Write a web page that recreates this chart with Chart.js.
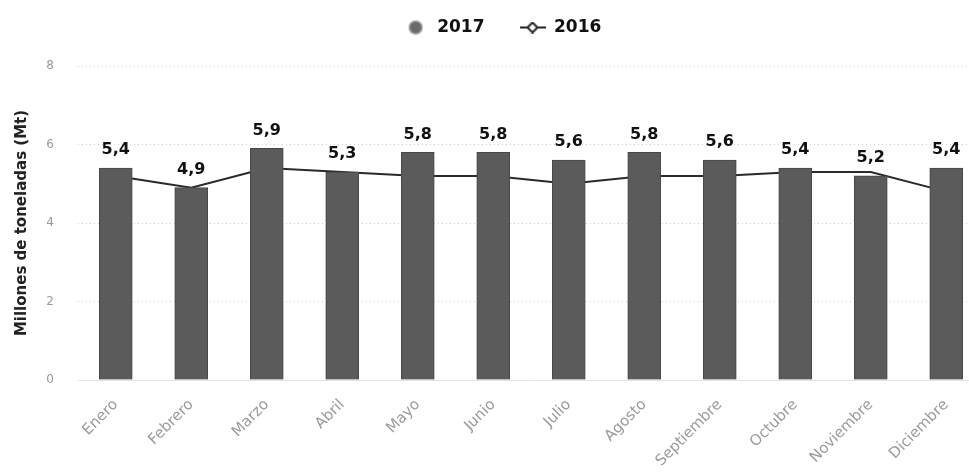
<!DOCTYPE html>
<html>
<head>
<meta charset="utf-8">
<script src="https://cdn.jsdelivr.net/npm/chart.js@4"></script>
<style>
  html, body { margin: 0; padding: 0; background: #fff; overflow: hidden; }
  #wrap { width: 990px; height: 473px; }
</style>
</head>
<body>
<div id="wrap"><canvas id="chart" width="990" height="473"></canvas></div>
<script>
// Months on the x axis
const months = [
  "Enero", "Febrero", "Marzo", "Abril", "Mayo", "Junio",
  "Julio", "Agosto", "Septiembre", "Octubre", "Noviembre", "Diciembre"
];
// 2017 bars
const values2017 = [5.4, 4.9, 5.9, 5.3, 5.8, 5.8, 5.6, 5.8, 5.6, 5.4, 5.2, 5.4];
// 2016 line
const values2016 = [5.2, 4.9, 5.4, 5.3, 5.2, 5.2, 5.0, 5.2, 5.2, 5.3, 5.3, 4.8];
const yTicks = [0, 2, 4, 6, 8];

const fontFamily = "'DejaVu Sans', Verdana, sans-serif";

// legend icons, both 26px wide so the spacing matches
function circleIcon() {
  const c = document.createElement("canvas");
  c.width = 26;
  c.height = 16;
  const g = c.getContext("2d");
  g.fillStyle = "#6a6a6a";
  g.strokeStyle = "#aaa";
  g.lineWidth = 1.5;
  g.beginPath();
  g.arc(13, 8, 6.5, 0, Math.PI * 2);
  g.fill();
  g.stroke();
  return c;
}

function lineIcon() {
  const c = document.createElement("canvas");
  c.width = 26;
  c.height = 12;
  const g = c.getContext("2d");
  g.strokeStyle = "#222";
  g.lineWidth = 2;
  g.beginPath();
  g.moveTo(0, 6);
  g.lineTo(26, 6);
  g.stroke();
  g.fillStyle = "#fff";
  g.beginPath();
  g.moveTo(13, 1);
  g.lineTo(18, 6);
  g.lineTo(13, 11);
  g.lineTo(8, 6);
  g.closePath();
  g.fill();
  g.stroke();
  return c;
}

// bar value labels, "5,4" style
const barLabels = {
  id: "barLabels",
  afterDatasetsDraw(chart) {
    const ctx = chart.ctx;
    const meta = chart.getDatasetMeta(0);
    ctx.save();
    ctx.font = "bold 16px " + fontFamily;
    ctx.fillStyle = "#111";
    ctx.textAlign = "center";
    ctx.textBaseline = "bottom";
    meta.data.forEach(function (bar, i) {
      const txt = values2017[i].toFixed(1).replace(".", ",");
      ctx.fillText(txt, bar.x, bar.y - 10);
    });
    ctx.restore();
  }
};

// legend: fixed height above the plot, nudged up and a little right
const legendPlace = {
  id: "legendPlace",
  beforeInit(chart) {
    const lg = chart.legend;
    const fit = lg.fit;
    lg.fit = function () {
      fit.call(this);
      this.height = 66;
    };
  },
  afterLayout(chart) {
    const lg = chart.legend;
    lg.left += 10;
    lg.right += 10;
    lg.top -= 16;
    lg.bottom -= 16;
  }
};

new Chart(document.getElementById("chart"), {
  type: "bar",
  data: {
    labels: months,
    datasets: [
      {
        label: "2017",
        data: values2017,
        backgroundColor: "#5b5b5b",
        borderColor: "#474747",
        borderWidth: 1,
        barThickness: 33,
        order: 1
      },
      {
        type: "line",
        label: "2016",
        data: values2016,
        borderColor: "#2a2a2a",
        borderWidth: 2,
        pointRadius: 0,
        tension: 0,
        order: 2
      }
    ]
  },
  options: {
    responsive: false,
    animation: false,
    layout: { padding: { top: 0, right: 6, left: 0, bottom: 0 } },
    plugins: {
      tooltip: { enabled: false },
      legend: {
        display: true,
        position: "top",
        labels: {
          usePointStyle: true,
          boxHeight: 13,
          pointStyleWidth: 26,
          font: { family: fontFamily, size: 17, weight: "bold" },
          color: "#111",
          padding: 35,
          generateLabels: function (chart) {
            const items = Chart.defaults.plugins.legend.labels.generateLabels(chart);
            items.forEach(function (it) {
              it.pointStyle = it.text === "2017" ? circleIcon() : lineIcon();
            });
            return items;
          }
        }
      }
    },
    scales: {
      x: {
        afterFit: function (axis) { axis.height = 93; },
        grid: { display: false },
        border: { color: "#e2e2e2" },
        ticks: {
          color: "#9a9a9a",
          padding: 8,
          font: { family: fontFamily, size: 15 },
          minRotation: 45,
          maxRotation: 45
        }
      },
      y: {
        min: 0,
        max: 8,
        afterFit: function (axis) { axis.width = 78; },
        afterBuildTicks: function (axis) {
          axis.ticks = yTicks.map(function (v) { return { value: v }; });
        },
        grid: { color: "#cfcfcf", drawTicks: false },
        border: { display: false, dash: [1, 3] },
        ticks: {
          color: "#999",
          padding: 24,
          font: { family: fontFamily, size: 12 }
        },
        title: {
          display: true,
          text: "Millones de toneladas (Mt)",
          color: "#222",
          padding: { top: 13, bottom: 0 },
          font: { family: fontFamily, size: 15, weight: "bold" }
        }
      }
    }
  },
  plugins: [barLabels, legendPlace]
});
</script>
</body>
</html>
